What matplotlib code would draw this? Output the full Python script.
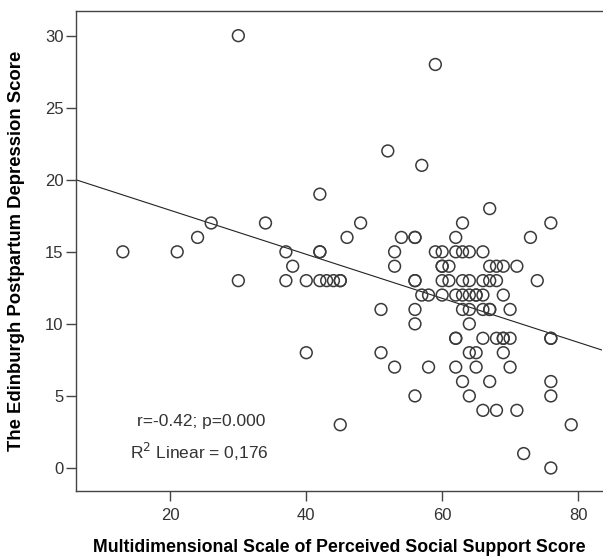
import matplotlib
matplotlib.use('Agg')
import matplotlib.pyplot as plt

plt.rcParams['font.family'] = ['Liberation Sans', 'DejaVu Sans']

# scores, grouped by depression score (row)
support = [30, 59, 52, 57, 42, 67,
           26, 34, 48, 63, 76,
           24, 46, 54, 56, 56, 62, 73,
           13, 21, 37, 42, 42, 53, 59, 60, 62, 63, 64, 66,
           38, 53, 60, 60, 61, 67, 68, 69, 71,
           30, 37, 40, 42, 43, 44, 45, 45, 56, 56, 60, 61, 63, 64, 66, 67, 68, 74,
           57, 58, 60, 62, 63, 64, 65, 65, 66, 69,
           51, 56, 63, 64, 66, 67, 67, 70,
           56, 64,
           62, 62, 66, 68, 69, 69, 70, 76, 76,
           40, 51, 64, 65, 69,
           53, 58, 62, 65, 70,
           63, 67, 76,
           56, 64, 76,
           66, 68, 71,
           45, 79,
           72,
           76]
depression = [30, 28, 22, 21, 19, 18,
              17, 17, 17, 17, 17,
              16, 16, 16, 16, 16, 16, 16,
              15, 15, 15, 15, 15, 15, 15, 15, 15, 15, 15, 15,
              14, 14, 14, 14, 14, 14, 14, 14, 14,
              13, 13, 13, 13, 13, 13, 13, 13, 13, 13, 13, 13, 13, 13, 13, 13, 13, 13,
              12, 12, 12, 12, 12, 12, 12, 12, 12, 12,
              11, 11, 11, 11, 11, 11, 11, 11,
              10, 10,
              9, 9, 9, 9, 9, 9, 9, 9, 9,
              8, 8, 8, 8, 8,
              7, 7, 7, 7, 7,
              6, 6, 6,
              5, 5, 5,
              4, 4, 4,
              3, 3,
              1,
              0]

# fit line as drawn in the picture
intercept = 20.93
slope = -0.1526
x_range = [6.1, 83.5]
y_range = [-1.6, 31.7]
x_ticks = [20, 40, 60, 80]
y_ticks = [0, 5, 10, 15, 20, 25, 30]

fig = plt.figure(figsize=(6.03, 5.58), dpi=100)
ax = fig.add_axes([0.126, 0.120, 0.872, 0.860])

ax.scatter(support, depression, s=72, facecolors='none',
           edgecolors='#3a3a3a', linewidths=1.1, zorder=3)
ax.plot(x_range, [intercept + slope * v for v in x_range],
        color='#222222', linewidth=0.8, zorder=2)

ax.set_xlim(*x_range)
ax.set_ylim(*y_range)
ax.set_xticks(x_ticks)
ax.set_yticks(y_ticks)

for side in ['left', 'bottom', 'top']:
    ax.spines[side].set_color('#444444')
    ax.spines[side].set_linewidth(1.0)
ax.spines['right'].set_visible(False)
ax.tick_params(direction='out', length=7, width=1.0, color='#444444',
               labelcolor='#333333', labelsize=12)
ax.tick_params(axis='x', pad=5)
ax.tick_params(axis='y', pad=2)

ax.set_xlabel('Multidimensional Scale of Perceived Social Support Score',
              fontsize=12.8, fontweight='bold', labelpad=12)
ax.set_ylabel('The Edinburgh Postpartum Depression Score',
              fontsize=13.3, fontweight='bold', labelpad=14)

ax.text(0.238, 0.144, 'r=-0.42; p=0.000', transform=ax.transAxes,
        ha='center', va='center', fontsize=12.5, color='#333333')
ax.text(0.235, 0.082, 'R$^2$ Linear = 0,176', transform=ax.transAxes,
        ha='center', va='center', fontsize=12.5, color='#333333')

fig.savefig('out.png', dpi=100)
